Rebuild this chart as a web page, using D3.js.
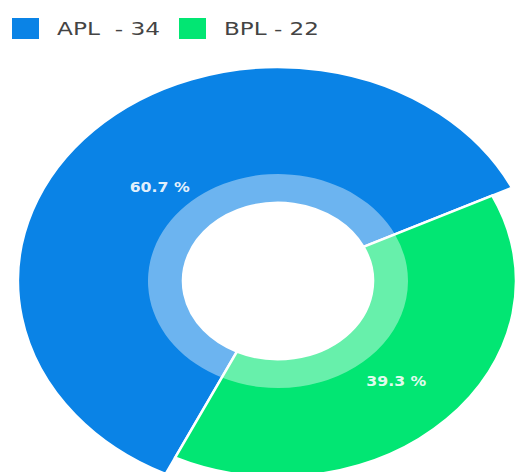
<!DOCTYPE html>
<html>
<head>
<meta charset="utf-8">
<script src="https://cdn.jsdelivr.net/npm/d3@7"></script>
<style>
  html, body { margin: 0; padding: 0; background: #fff; }
  svg { display: block; }
</style>
</head>
<body>
<div id="chart"></div>
<script>
// chart data
const categories = ['APL', 'BPL'];
const values = [34, 22];
const legendLabels = ['APL  - 34', 'BPL - 22'];

const width = 518, height = 472;
const colors = { APL: '#0a83e6', BPL: '#02e673' };
const outerR = { APL: 260, BPL: 238 }; // green slice is drawn a bit smaller
const holeR = 95, ringR = 130, labelR = 167;
const cx = 278, cy = 281, squash = 0.823; // chart is stretched wide

const svg = d3.select('#chart').append('svg')
  .attr('width', width)
  .attr('height', height);

const data = categories.map((c, i) => ({ name: c, value: values[i] }));
const total = d3.sum(values);

const pie = d3.pie()
  .sort(null)
  .value(d => d.value)
  .startAngle(205.6 * Math.PI / 180)
  .endAngle(205.6 * Math.PI / 180 + 2 * Math.PI);

const arcs = pie(data);

const g = svg.append('g')
  .attr('transform', 'translate(' + cx + ',' + cy + ') scale(1,' + squash + ')');

// main slices
g.selectAll('.slice').data(arcs)
  .enter().append('path')
  .attr('class', 'slice')
  .attr('d', d => d3.arc().innerRadius(holeR).outerRadius(outerR[d.data.name])(d))
  .attr('fill', d => colors[d.data.name])
  .attr('stroke', '#fff')
  .attr('stroke-width', 2.5)
  .attr('vector-effect', 'non-scaling-stroke');

// light inner ring, no outline so only the slice separators show through
const ringArc = d3.arc().innerRadius(holeR).outerRadius(ringR);
g.selectAll('.ring').data(arcs)
  .enter().append('path')
  .attr('class', 'ring')
  .attr('d', ringArc)
  .attr('fill', '#fff')
  .attr('fill-opacity', 0.4);

// percent labels (outside the squashed group so text isn't distorted)
const labelArc = d3.arc().innerRadius(labelR).outerRadius(labelR);
svg.selectAll('.pct').data(arcs)
  .enter().append('text')
  .attr('class', 'pct')
  .attr('x', d => cx + labelArc.centroid(d)[0])
  .attr('y', d => cy + labelArc.centroid(d)[1] * squash)
  .attr('dy', '0.55em')
  .attr('text-anchor', 'middle')
  .attr('font-family', 'DejaVu Sans, sans-serif')
  .attr('font-size', 14)
  .attr('font-weight', 'bold')
  .attr('textLength', 60)
  .attr('lengthAdjust', 'spacingAndGlyphs')
  .attr('fill', '#fff')
  .attr('fill-opacity', 0.9)
  .style('white-space', 'pre')
  .text(d => (d.data.value / total * 100).toFixed(1) + ' %');

// legend
const legendX = [12, 179];
const legendW = [103, 95];
const legend = svg.selectAll('.legend').data(categories)
  .enter().append('g')
  .attr('class', 'legend')
  .attr('transform', (d, i) => 'translate(' + legendX[i] + ',18)');

legend.append('rect')
  .attr('width', 27)
  .attr('height', 21)
  .attr('fill', d => colors[d]);

legend.append('text')
  .attr('x', 45)
  .attr('y', 11)
  .attr('dy', '0.35em')
  .attr('font-family', 'DejaVu Sans, sans-serif')
  .attr('font-size', 17)
  .attr('fill', '#444')
  .attr('textLength', (d, i) => legendW[i])
  .attr('lengthAdjust', 'spacingAndGlyphs')
  .style('white-space', 'pre')
  .text((d, i) => legendLabels[i]);
</script>
</body>
</html>
